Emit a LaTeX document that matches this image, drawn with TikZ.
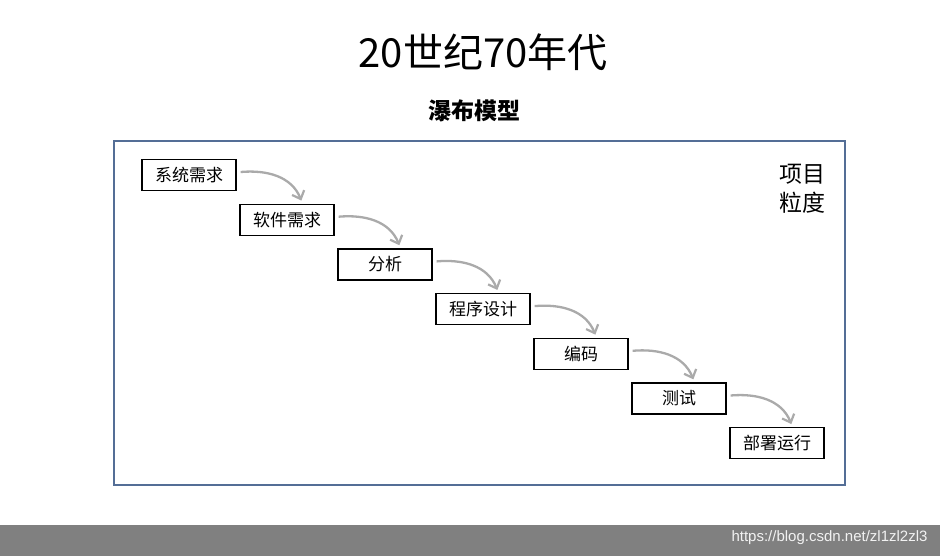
\documentclass[tikz,border=0pt]{standalone}
\usepackage{fontspec}
\setmainfont{Noto Sans CJK SC}
\newfontfamily\urlfont{Liberation Sans}
\usepackage{tikz}
\usetikzlibrary{arrows.meta}
\definecolor{frameblue}{RGB}{84,110,150}
\definecolor{flowgray}{RGB}{170,170,170}
\definecolor{bargray}{RGB}{128,128,128}

\begin{document}
\begin{tikzpicture}[x=1pt,y=1pt,
    >={Straight Barb[length=7pt,width=13pt,line width=2.2pt]},
    phase/.style={draw=black,line width=1.3pt,fill=white,minimum width=94pt,
      minimum height=31pt,inner sep=0pt,font=\fontsize{17}{19}\selectfont},
    flow/.style={->,flowgray,line width=2.3pt}]
  \useasboundingbox (0,0) rectangle (940,-556);
  % titles
  \node (title) at (483,-52) {\fontsize{40}{44}\selectfont 20世纪70年代};
  \node (model) at (474,-111) {\fontsize{23}{26}\selectfont\bfseries 瀑布模型};
  % frame
  \draw[frameblue,line width=1.5pt] (114,-141) rectangle (845,-485);
  \node[align=left,font=\fontsize{23}{29}\selectfont] (grain) at (802,-189) {项目\\粒度};
  % phases of the waterfall
  \foreach \i/\txt in {1/系统需求, 2/软件需求, 3/分析, 4/程序设计, 5/编码, 6/测试, 7/部署运行} {
    \node[phase] (b\i) at ({189+98*(\i-1)},{-175-44.7*(\i-1)}) {\txt};
  }
  \foreach \i [evaluate=\i as \j using int(\i+1)] in {1,...,6} {
    \draw[flow] ([xshift=4pt,yshift=3pt]b\i.east) to[out=5,in=112]
      ([xshift=62pt,yshift=3pt]b\j.north west);
  }
  % footer bar
  \fill[bargray] (0,-525) rectangle (940,-556);
  \node[anchor=east,text=white!90!gray,font=\urlfont\fontsize{15}{17}\selectfont] (url)
    at (931,-538) {https://blog.csdn.net/zl1zl2zl3};
\end{tikzpicture}
\end{document}
